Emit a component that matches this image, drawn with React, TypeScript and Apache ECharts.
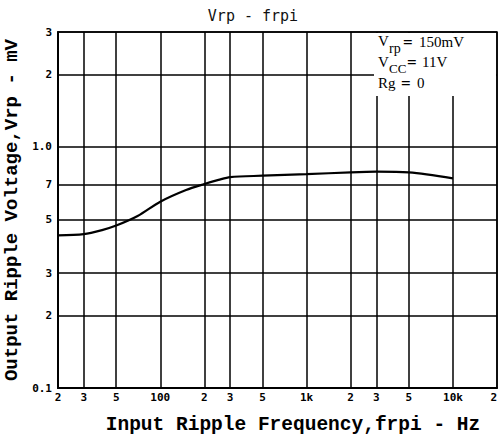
import React, { useEffect, useRef } from "react";
import * as echarts from "echarts";

const freqHz = [20, 30, 40, 50, 70, 100, 150, 200, 250, 300, 500, 1000, 2000, 3000, 5000, 10000];
const rippleMv = [0.43, 0.435, 0.452, 0.472, 0.517, 0.593, 0.663, 0.702, 0.73, 0.75, 0.76, 0.771, 0.785, 0.79, 0.785, 0.741];

const xTickValues = [20, 30, 50, 100, 200, 300, 500, 1000, 2000, 3000, 5000, 10000, 20000];
const xTickLabels = ["2", "3", "5", "100", "2", "3", "5", "1k", "2", "3", "5", "10k", "2"];
const yTickValues = [0.1, 0.2, 0.3, 0.5, 0.7, 1, 2, 3];
const yTickLabels = ["0.1", "2", "3", "5", "7", "1.0", "2", "3"];

const labelFor = (vals: number[], labels: string[], v: number) => {
  let best = 0;
  let bd = Infinity;
  vals.forEach((t, i) => {
    const d = Math.abs(Math.log10(t) - Math.log10(v));
    if (d < bd) { bd = d; best = i; }
  });
  return bd < 0.01 ? labels[best] : "";
};

export default function App() {
  const ref = useRef<HTMLDivElement>(null);
  useEffect(() => {
    document.body.style.margin = "0";
    const chart = echarts.init(ref.current!, null, { renderer: "svg" });
    const serif = "Liberation Serif";
    chart.setOption({
      animation: false,
      backgroundColor: "#fff",
      title: {
        text: "Vrp - frpi",
        left: 248,
        textAlign: "center",
        top: 3,
        textStyle: { fontFamily: "DejaVu Sans Mono", fontSize: 15, fontWeight: "normal", color: "#111" },
      },
      grid: {
        left: 58, right: 1, top: 32, bottom: 50,
        outerBoundsMode: "none", containLabel: false,
        show: true, borderColor: "#000", borderWidth: 1.5, backgroundColor: "transparent",
      },
      xAxis: {
        type: "log",
        logBase: 10,
        min: 20,
        max: 20000,
        name: "Input Ripple Frequency,frpi - Hz",
        nameLocation: "middle",
        nameGap: 27,
        nameTextStyle: { fontFamily: "Liberation Mono", fontWeight: "bold", fontSize: 19.5, color: "#000", padding: [0, 0, 0, 31] },
        axisLine: { lineStyle: { color: "#000", width: 2 } },
        axisTick: { show: false, customValues: xTickValues },
        axisLabel: {
          customValues: xTickValues,
          alignMaxLabel: "right",
          fontFamily: "DejaVu Sans Mono",
          fontWeight: "bold",
          fontSize: 11,
          color: "#000",
          margin: 4,
          formatter: (v: number) => labelFor(xTickValues, xTickLabels, v),
        },
        splitLine: { show: true, lineStyle: { color: "#000", width: 1.5 } },
        minorSplitLine: { show: false },
      },
      yAxis: {
        type: "log",
        logBase: 10,
        min: 0.1,
        max: 3,
        name: "Output Ripple Voltage,Vrp - mV",
        nameLocation: "middle",
        nameGap: 34,
        nameRotate: 90,
        nameTextStyle: { fontFamily: "Liberation Mono", fontWeight: "bold", fontSize: 19, color: "#000" },
        axisLine: { show: true, lineStyle: { color: "#000", width: 2 } },
        axisTick: { show: false, customValues: yTickValues },
        axisLabel: {
          customValues: yTickValues,
          fontFamily: "DejaVu Sans Mono",
          fontWeight: "bold",
          fontSize: 11,
          color: "#000",
          margin: 6,
          formatter: (v: number) => labelFor(yTickValues, yTickLabels, v),
        },
        splitLine: { show: true, lineStyle: { color: "#000", width: 1.5 } },
      },
      series: [
        {
          type: "line",
          data: freqHz.map((f, i) => [f, rippleMv[i]]),
          smooth: 0.3,
          showSymbol: false,
          lineStyle: { color: "#000", width: 2.2 },
          z: 5,
        },
      ],
      graphic: [
        { type: "rect", left: 374, top: 33, shape: { width: 122, height: 63 }, style: { fill: "#fff" }, z: 100 },
        { type: "text", x: 378, y: 33, style: { text: "V", font: `15px "${serif}"`, fill: "#000" }, z: 101 },
        { type: "text", x: 389, y: 41, style: { text: "rp", font: `14px "${serif}"`, fill: "#000" }, z: 101 },
        { type: "text", x: 403, y: 34, style: { text: "=", font: `bold 17px "${serif}"`, fill: "#000" }, z: 101 },
        { type: "text", x: 419, y: 34, style: { text: "150mV", font: `15px "${serif}"`, fill: "#000" }, z: 101 },
        { type: "text", x: 378, y: 54, style: { text: "V", font: `15px "${serif}"`, fill: "#000" }, z: 101 },
        { type: "text", x: 389, y: 62, style: { text: "CC", font: `13px "${serif}"`, fill: "#000" }, z: 101 },
        { type: "text", x: 407, y: 54, style: { text: "=", font: `bold 17px "${serif}"`, fill: "#000" }, z: 101 },
        { type: "text", x: 422, y: 54, style: { text: "11V", font: `15px "${serif}"`, fill: "#000" }, z: 101 },
        { type: "text", x: 378, y: 75, style: { text: "Rg", font: `15px "${serif}"`, fill: "#000" }, z: 101 },
        { type: "text", x: 401, y: 75, style: { text: "=", font: `bold 17px "${serif}"`, fill: "#000" }, z: 101 },
        { type: "text", x: 417, y: 75, style: { text: "0", font: `15px "${serif}"`, fill: "#000" }, z: 101 },
      ],
    });
    return () => chart.dispose();
  }, []);
  return <div ref={ref} style={{ width: 498, height: 438 }} />;
}
